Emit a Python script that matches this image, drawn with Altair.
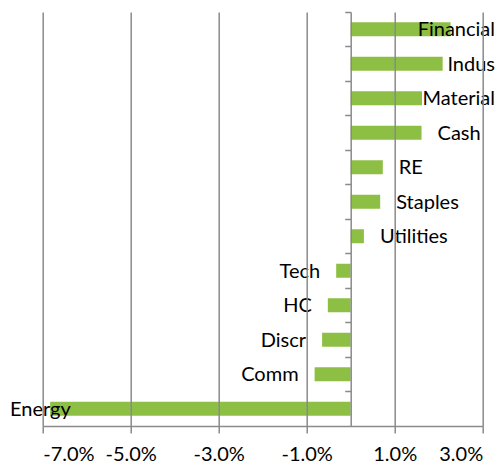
import altair as alt
import pandas as pd

categories = ["Financial", "Indus", "Material", "Cash", "RE", "Staples", "Utilities",
              "Tech", "HC", "Discr", "Comm", "Energy"]
values = [2.27, 2.09, 1.62, 1.61, 0.73, 0.67, 0.30, -0.33, -0.52, -0.65, -0.82, -6.83]
x_ticks = [-7, -5, -3, -1, 1, 3]

df = pd.DataFrame({"cat": categories, "val": values})

W, H = 440, 414
X_MIN, X_MAX = -7, 3
PAD_L, PAD_T, PAD_R, PAD_B = 34.7, 4, 13.3, 38
PX = W / (X_MAX - X_MIN)          # pixels per percent
OFF = 16 / PX                      # label gap from bar end
CHARW = 8.6 / PX                   # approx. character width
EDGE_R = X_MAX + (PAD_R - 1) / PX
EDGE_L = X_MIN - (PAD_L - 2) / PX

GRAY = "#8a8a8a"
GREEN = "#8EBF45"
FONT = "Lato"

xscale = alt.Scale(domain=[X_MIN, X_MAX], nice=False, zero=False)
ysort = categories

bars = alt.Chart(df).mark_bar(size=14, color=GREEN).encode(
    x=alt.X("val:Q", scale=xscale,
            axis=alt.Axis(values=x_ticks, title=None, grid=True, zindex=1,
                          gridColor=GRAY, gridWidth=1.5,
                          domainColor=GRAY, domainWidth=1.5,
                          tickColor=GRAY, tickWidth=1.5, tickSize=7,
                          labelFont=FONT, labelFontSize=20, labelColor="#000",
                          labelPadding=11,
                          labelExpr="(datum.value < 0 ? '-' : '') + format(abs(datum.value), '.1f') + '%'")),
    y=alt.Y("cat:N", sort=ysort,
            scale=alt.Scale(paddingInner=0, paddingOuter=0),
            axis=alt.Axis(labels=False, title=None, grid=False, zindex=1,
                          domainColor=GRAY, domainWidth=1.5,
                          tickColor=GRAY, tickWidth=1.5, tickSize=6,
                          bandPosition=0, offset=-(0 - X_MIN) * PX)),
)

lab = alt.Chart(df).transform_calculate(
    w=f"length(datum.cat) * {CHARW}"
).transform_calculate(
    clampR=f"datum.val >= 0 && datum.val + {OFF} + datum.w > {EDGE_R}",
    clampL=f"datum.val < 0 && datum.val - {OFF} - datum.w < {EDGE_L}",
).transform_calculate(
    lx=f"datum.val >= 0 ? (datum.clampR ? {EDGE_R} : datum.val + {OFF}) : (datum.clampL ? {EDGE_L} : datum.val - {OFF})",
    al="datum.val >= 0 ? (datum.clampR ? 'right' : 'left') : (datum.clampL ? 'left' : 'right')",
)

enc = dict(
    x=alt.X("lx:Q", scale=xscale),
    y=alt.Y("cat:N", sort=ysort),
    text="cat:N",
)

text_left = lab.transform_filter("datum.al == 'left'").mark_text(
    align="left", baseline="middle", font=FONT, fontSize=20, color="#000", dy=1
).encode(**enc)
text_right = lab.transform_filter("datum.al == 'right'").mark_text(
    align="right", baseline="middle", font=FONT, fontSize=20, color="#000", dy=1
).encode(**enc)

chart = alt.layer(bars, text_left, text_right).properties(
    width=W, height=H,
    autosize=alt.AutoSizeParams(type="none"),
    padding={"left": PAD_L, "top": PAD_T, "right": PAD_R, "bottom": PAD_B},
).configure_view(stroke=None)

chart.save("out.html", embed_options={"renderer": "svg", "actions": False})
